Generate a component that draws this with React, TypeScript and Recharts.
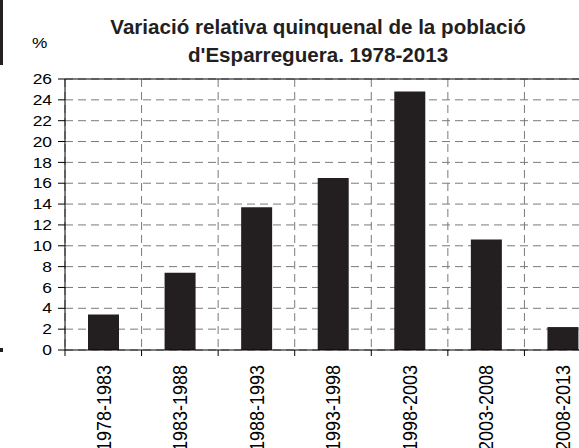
import React from "react";
import {
  BarChart,
  Bar,
  XAxis,
  YAxis,
  CartesianGrid,
  ReferenceLine,
} from "recharts";

const periods = [
  "1978-1983",
  "1983-1988",
  "1988-1993",
  "1993-1998",
  "1998-2003",
  "2003-2008",
  "2008-2013",
];
const variation = [3.4, 7.4, 13.7, 16.5, 24.8, 10.6, 2.2];
const yTicks = [0, 2, 4, 6, 8, 10, 12, 14, 16, 18, 20, 22, 24, 26];
const titleLines = [
  "Variació relativa quinquenal de la població",
  "d'Esparreguera. 1978-2013",
];

const FONT = "Arial, 'Liberation Sans', Helvetica, sans-serif";
const CHART_W = 640;
const CHART_H = 448;
const MARGIN = { top: 79, right: 39, left: 0, bottom: 0 };
const Y_AXIS_W = 65;
const X_AXIS_H = 98;
const PLOT_W = CHART_W - MARGIN.left - MARGIN.right - Y_AXIS_W;

const data = periods.map((p, i) => ({ period: p, value: variation[i] }));

// label at the bar centre, plus a short tick at the left category boundary
function PeriodTick(props: any) {
  const { x, y, payload } = props;
  const step = PLOT_W / periods.length;
  const bx = x - step / 2;
  return (
    <g>
      <line x1={bx} x2={bx} y1={y} y2={y + 6} stroke="#000" strokeWidth={1} />
      <text
        transform={`translate(${x},${y + 15}) rotate(-90) scale(1,1.15)`}
        textAnchor="end"
        dy="0.35em"
        fontSize={18}
        fontFamily={FONT}
        fill="#000"
      >
        {payload.value}
      </text>
    </g>
  );
}

function ValueTick(props: any) {
  const { x, y, payload } = props;
  return (
    <text
      transform={`translate(${x},${y}) scale(1.2,1)`}
      textAnchor="end"
      dy="0.355em"
      fontSize={14.5}
      fontFamily={FONT}
      fill="#000"
    >
      {payload.value}
    </text>
  );
}

export default function App() {
  return (
    <div
      style={{
        position: "fixed",
        left: 0,
        top: 0,
        width: 579,
        height: 448,
        overflow: "hidden",
        background: "#fff",
      }}
    >
      <BarChart width={CHART_W} height={CHART_H} data={data} margin={MARGIN}>
        <CartesianGrid
          stroke="#7a7a7a"
          strokeDasharray="8 5"
          verticalCoordinatesGenerator={({ offset }: any) =>
            [...periods, ""].map(
              (_, i) => offset.left + (i * offset.width) / periods.length
            )
          }
        />
        <XAxis
          dataKey="period"
          height={X_AXIS_H}
          tickLine={false}
          tickSize={0}
          tickMargin={0}
          interval={0}
          axisLine={{ stroke: "#000" }}
          tick={<PeriodTick />}
        />
        <YAxis
          width={Y_AXIS_W}
          domain={[0, 26]}
          ticks={yTicks}
          interval={0}
          tickSize={7}
          tickMargin={6}
          axisLine={{ stroke: "#000" }}
          tickLine={{ stroke: "#000" }}
          tick={<ValueTick />}
        />
        <ReferenceLine y={26} stroke="#000" />
        <Bar dataKey="value" fill="#231f20" barSize={31} isAnimationActive={false} />
      </BarChart>
      <svg
        width={579}
        height={448}
        style={{ position: "absolute", left: 0, top: 0, pointerEvents: "none" }}
      >
        {titleLines.map((t, i) => (
          <text
            key={t}
            x={318}
            y={33.5 + i * 28.5}
            textAnchor="middle"
            fontSize={20.6}
            fontWeight="bold"
            fontFamily={FONT}
            fill="#231f20"
          >
            {t}
          </text>
        ))}
        <text
          x={32}
          y={48}
          fontSize={15}
          fontFamily={FONT}
          fill="#000"
          transform="translate(32,0) scale(1.15,1) translate(-32,0)"
        >
          %
        </text>
      </svg>
      <div
        style={{ position: "absolute", left: 0, top: 0, width: 3, height: 65, background: "#231f20" }}
      />
      <div
        style={{ position: "absolute", left: 0, top: 348, width: 3, height: 4, background: "#231f20" }}
      />
    </div>
  );
}
